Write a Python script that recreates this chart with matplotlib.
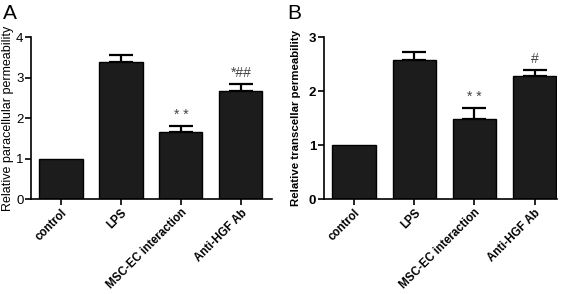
import numpy as np
import matplotlib.pyplot as plt

plt.rcParams['font.family'] = ['Liberation Sans', 'DejaVu Sans']

# data
groups = ['control', 'LPS', 'MSC-EC interaction', 'Anti-HGF Ab']
para_mean = [1.0, 3.38, 1.65, 2.68]
para_err = [0.0, 0.17, 0.16, 0.15]
para_marks = ['', '', '* *', '*##']
trans_mean = [1.0, 2.57, 1.49, 2.28]
trans_err = [0.0, 0.15, 0.19, 0.11]
trans_marks = ['', '', '* *', '#']

fig = plt.figure(figsize=(5.67, 2.94), dpi=100)
ax_a = fig.add_axes([0.0547, 0.323, 0.4250, 0.551])
ax_b = fig.add_axes([0.5714, 0.323, 0.4106, 0.551])


def draw_panel(ax, means, errs, marks, ymax, ylabel, bold, xright, label_x, label_size):
    x = np.arange(len(groups))
    ax.bar(x, means, width=0.72, color='#1c1c1c', edgecolor='black', linewidth=1.0, zorder=2)
    # only bars with a visible error get a whisker
    has_err = np.array(errs) > 0
    ax.errorbar(x[has_err], np.array(means)[has_err],
                yerr=[np.zeros(has_err.sum()), np.array(errs)[has_err]], fmt='none',
                ecolor='black', elinewidth=1.6, capsize=8.5, capthick=1.6, zorder=1)
    for xi, m, e, s in zip(x, means, errs, marks):
        if s:
            ax.annotate(s, (xi, m + e), xytext=(0, 3), textcoords='offset points',
                        ha='center', va='bottom', fontsize=10, color='#444444')
    ax.set_xlim(-0.5, xright)
    ax.set_ylim(0, ymax)
    ax.set_yticks(range(ymax + 1))
    ax.set_xticks(x)
    w = 'bold' if bold else 'normal'
    ax.set_xticklabels(groups, rotation=45, ha='right', rotation_mode='anchor',
                       fontsize=8.3, fontweight='bold')
    for lab in ax.get_yticklabels():
        lab.set_fontsize(9.5)
        lab.set_fontweight(w)
    ax.set_ylabel(ylabel, fontsize=label_size, fontweight=w)
    ax.yaxis.set_label_coords(label_x, 0.5)
    ax.spines['top'].set_visible(False)
    ax.spines['right'].set_visible(False)
    ax.spines['left'].set_linewidth(1.2)
    ax.spines['bottom'].set_linewidth(1.2)
    ax.tick_params(axis='both', direction='out', length=4, width=1.2, pad=1.5)


draw_panel(ax_a, para_mean, para_err, para_marks, 4, 'Relative paracellular permeability',
           False, 3.52, -0.072, 9)
draw_panel(ax_b, trans_mean, trans_err, trans_marks, 3, 'Relative transcellar permeability',
           True, 3.37, -0.1, 8.2)

fig.text(0.006, 0.985, 'A', fontsize=15, va='top', ha='left')
fig.text(0.506, 0.985, 'B', fontsize=15, va='top', ha='left')

fig.savefig('out.png', dpi=100)
